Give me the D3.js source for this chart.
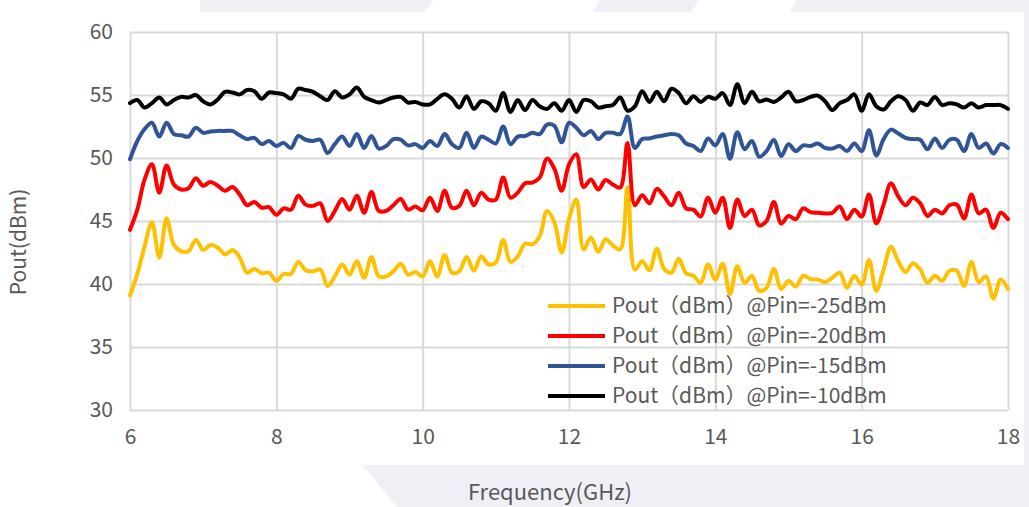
<!DOCTYPE html>
<html>
<head>
<meta charset="utf-8">
<script src="https://cdn.jsdelivr.net/npm/d3@7/dist/d3.min.js"></script>
<style>
  html, body { margin: 0; padding: 0; background: #fff; }
  svg { display: block; }
  text { font-family: "Noto Sans CJK SC", "Noto Sans", sans-serif; fill: #595959; }
</style>
</head>
<body>
<svg id="chart" width="1029" height="507"></svg>
<script>
// ---- data ----
const freqStart = 6, freqStep = 0.1;
const xTicks = [6, 8, 10, 12, 14, 16, 18];
const yTicks = [30, 35, 40, 45, 50, 55, 60];
const seriesNames = [
  "Pout（dBm）@Pin=-25dBm",
  "Pout（dBm）@Pin=-20dBm",
  "Pout（dBm）@Pin=-15dBm",
  "Pout（dBm）@Pin=-10dBm"
];
const seriesColors = ["#FFC000", "#FF0000", "#2F5597", "#000000"];

const pin25 = [
  39.1, 40.8, 43.0, 44.9, 42.1, 45.2, 43.1, 42.6, 42.6, 43.5,
  42.7, 43.1, 42.9, 42.35, 42.7, 42.1, 40.9, 41.2, 40.85, 40.9,
  40.25, 40.8, 40.8, 41.75, 41.1, 41.0, 41.15, 39.85, 40.6, 41.55,
  40.75, 41.8, 40.5, 42.15, 40.6, 40.6, 41.0, 41.6, 40.75, 40.95,
  40.6, 41.8, 40.6, 42.3, 40.9, 41.0, 42.15, 41.05, 42.2, 41.55,
  41.7, 43.5, 41.75, 42.2, 43.2, 43.15, 43.8, 45.8, 44.9, 42.5,
  45.15, 46.7, 42.75, 43.7, 42.55, 43.55, 43.05, 42.75, 47.7, 41.15,
  41.8, 41.1, 42.8, 41.2, 40.9, 42.0, 40.85, 40.65, 40.1, 41.55,
  40.35, 41.6, 39.2, 41.4, 40.1, 40.65, 39.45, 39.7, 41.2, 39.6,
  40.25, 39.8, 40.65, 40.4, 40.35, 40.15, 40.5, 40.9, 39.7, 40.65,
  39.95, 41.9, 39.45, 41.15, 42.95, 41.8, 40.95, 41.65, 41.15, 40.1,
  40.65, 40.25, 41.05, 41.05, 39.85, 41.75, 40.15, 40.6, 38.85, 40.35,
  39.6
];
const pin20 = [
  44.3, 45.9, 48.3, 49.5, 47.25, 49.4, 47.9, 47.5, 47.6, 48.4,
  47.8, 48.1, 47.8, 47.4, 47.7, 47.1, 46.25, 46.5, 46.05, 46.1,
  45.5, 46.0, 45.9, 47.0, 46.3, 46.2, 46.4, 45.0, 45.8, 46.75,
  45.9, 47.0, 45.65, 47.3, 45.8, 45.8, 46.25, 46.75, 45.9, 46.15,
  45.85, 46.85, 45.8, 47.4, 46.05, 46.2, 47.4, 46.25, 47.25, 46.7,
  46.7, 48.45, 46.85, 47.25, 48.0, 48.05, 48.45, 49.95, 49.15, 47.4,
  49.5, 50.3, 47.7, 48.3, 47.5, 48.25, 47.9, 47.65, 51.2, 46.25,
  47.05, 46.4, 47.55, 46.95, 46.25, 47.25, 46.0, 45.9, 45.35, 46.85,
  45.65, 46.85, 44.45, 46.7, 45.4, 45.9, 44.65, 45.0, 46.5, 44.8,
  45.4, 45.15, 46.0, 45.7, 45.65, 45.6, 45.65, 46.15, 45.15, 45.9,
  45.35, 47.1, 44.8, 46.3, 48.0, 46.95, 46.25, 46.85, 46.4, 45.4,
  45.9, 45.6, 46.25, 46.3, 45.2, 47.1, 45.6, 45.9, 44.45, 45.65,
  45.15
];
const pin15 = [
  49.9, 51.35, 52.3, 52.8, 51.7, 52.8, 51.9, 51.8, 51.7, 52.4,
  52.0, 52.1, 52.15, 52.15, 52.15, 51.8, 51.5, 51.6, 51.1, 51.35,
  50.95, 51.2, 50.8, 51.75, 51.45, 51.35, 51.45, 50.4, 51.1, 51.7,
  50.95, 51.9, 50.8, 51.75, 50.75, 50.95, 51.5, 51.45, 51.0, 51.1,
  50.8, 51.35, 50.95, 51.9, 51.1, 50.8, 52.0, 50.8, 51.7, 51.45,
  51.15, 52.5, 51.1, 51.7, 51.75, 52.0, 51.9, 52.65, 52.55, 51.25,
  52.8, 52.4, 51.8, 52.15, 51.5, 52.0, 52.0, 51.9, 53.3, 50.8,
  51.5, 51.55, 51.7, 51.8, 51.9, 51.8, 51.15, 50.95, 50.55, 51.55,
  51.0, 51.9, 49.95, 52.05, 50.7, 51.35, 50.1, 50.55, 51.45, 50.15,
  51.1, 50.55, 51.0, 50.95, 51.15, 50.8, 50.75, 50.95, 50.55, 51.15,
  50.55, 52.2, 50.2, 51.5, 52.25, 51.95, 51.6, 51.5, 51.45, 50.7,
  51.55, 50.8, 51.45, 51.45, 50.55, 51.9, 50.8, 51.15, 50.35, 51.1,
  50.8
];
const pin10 = [
  54.35, 54.6, 54.0, 54.35, 54.8, 54.25, 54.6, 54.85, 54.8, 55.0,
  54.5, 54.25, 54.65, 55.25, 55.2, 55.05, 55.4, 55.3, 54.7, 55.2,
  55.15, 55.05, 54.7, 55.5, 55.4, 55.25, 54.9, 54.6, 55.3, 54.8,
  55.05, 55.6, 54.85, 54.6, 54.4, 54.6, 54.8, 54.85, 54.4, 54.45,
  54.25, 54.25, 54.7, 55.05, 54.7, 54.0, 54.9, 53.9, 54.5, 54.35,
  53.75, 55.15, 53.65, 54.6, 53.8, 54.6, 54.1, 53.9, 54.35, 53.75,
  54.6, 53.65, 54.6, 54.5, 54.0, 54.1, 54.2, 54.8, 53.75, 54.1,
  55.3, 54.45, 55.25, 54.5, 55.5, 55.15, 54.35, 54.9, 54.45, 54.85,
  54.7, 55.15, 54.2, 55.85, 54.35, 55.25, 54.5, 54.65, 54.45, 54.8,
  55.25, 54.5, 54.6, 54.85, 54.95, 54.5, 53.8, 54.35, 54.6, 55.05,
  53.75, 55.05, 54.1, 53.85, 54.5, 54.9, 54.6, 53.75, 54.4, 54.2,
  54.85, 54.2, 54.35, 54.25, 54.0, 54.35, 54.0, 54.2, 54.2, 54.2,
  53.9
];
const seriesValues = [pin25, pin20, pin15, pin10];

// ---- drawing ----
const svg = d3.select("#chart");

// background decoration
const bg = "#EEF0F5";
const polys = [
  [[200,0],[434,0],[422,14],[200,14]],
  [[600,0],[699,0],[690,14],[591,14]],
  [[797,0],[1029,0],[1029,14],[788,14]],
  [[1022,0],[1029,0],[1029,507],[1022,507]],
  [[361,463],[1029,463],[1029,507],[397,507]]
];
svg.selectAll("polygon.bg").data(polys).join("polygon")
  .attr("class", "bg")
  .attr("points", d => d.map(p => p.join(",")).join(" "))
  .attr("fill", bg);
svg.append("rect").attr("x", 0).attr("y", 12).attr("width", 1024).attr("height", 453).attr("fill", "#fff");

const x = d3.scaleLinear().domain([6, 18]).range([130, 1008]);
const y = d3.scaleLinear().domain([30, 60]).range([410, 32]);

// grid + axes
const gx = svg.append("g").attr("transform", `translate(0,${y(30)})`)
  .call(d3.axisBottom(x).tickValues(xTicks).tickFormat(d3.format("d"))
    .tickSize(-(y(30) - y(60))).tickPadding(19));
gx.select(".domain").remove();
gx.selectAll("line").attr("stroke", "#D9D9D9").attr("stroke-width", 2);
gx.selectAll("text").attr("font-size", 21).attr("fill", "#595959");

const gy = svg.append("g").attr("transform", `translate(${x(6)},0)`)
  .call(d3.axisLeft(y).tickValues(yTicks).tickFormat(d3.format("d"))
    .tickSize(-(x(18) - x(6))).tickPadding(17));
gy.select(".domain").remove();
gy.selectAll("line").attr("stroke", "#D9D9D9").attr("stroke-width", 2);
gy.selectAll("text").attr("font-size", 21).attr("fill", "#595959");

// lines
const line = d3.line()
  .x((d, i) => x(freqStart + i * freqStep))
  .y(d => y(d))
  .curve(d3.curveCatmullRom.alpha(0.5));

svg.append("g").selectAll("path.series").data(seriesValues).join("path")
  .attr("class", "series")
  .attr("d", d => line(d))
  .attr("fill", "none")
  .attr("stroke", (d, i) => seriesColors[i])
  .attr("stroke-width", 4)
  .attr("stroke-linejoin", "round")
  .attr("stroke-linecap", "round");

// legend
const lg = svg.append("g").attr("transform", "translate(548,306)");
const items = lg.selectAll("g").data(seriesNames).join("g")
  .attr("transform", (d, i) => `translate(0,${i * 30})`);
items.append("line").attr("x1", 0).attr("x2", 57).attr("y1", 0).attr("y2", 0)
  .attr("stroke", (d, i) => seriesColors[i]).attr("stroke-width", 4);
items.append("text").attr("x", 64).attr("y", 0).attr("dy", "0.35em")
  .attr("font-size", 21).text(d => d);

// axis titles
svg.append("text").attr("x", 550).attr("y", 500).attr("text-anchor", "middle")
  .attr("font-size", 22).text("Frequency(GHz)");
svg.append("text").attr("transform", "translate(26,242) rotate(-90)")
  .attr("text-anchor", "middle").attr("font-size", 21).text("Pout(dBm)");
</script>
</body>
</html>
